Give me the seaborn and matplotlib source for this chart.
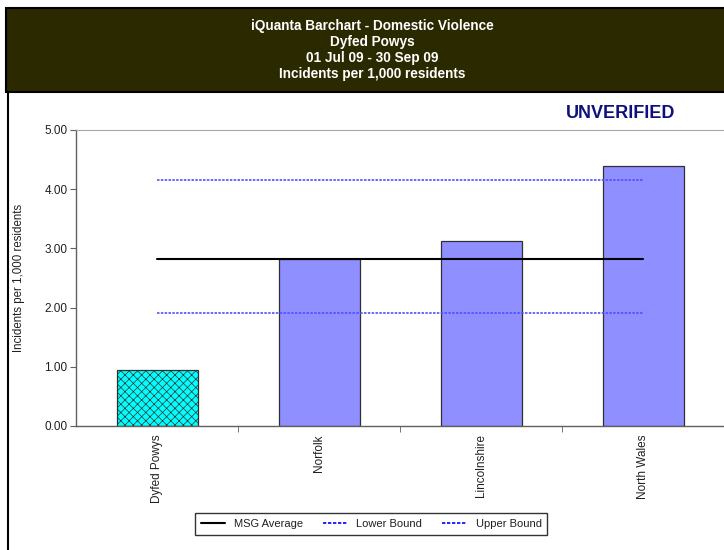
import matplotlib
matplotlib.use("Agg")
import matplotlib.pyplot as plt
import seaborn as sns
import pandas as pd
from matplotlib.lines import Line2D
from matplotlib.patches import Rectangle

# Chart data
areas = ["Dyfed Powys", "Norfolk", "Lincolnshire", "North Wales"]
rates = [0.94, 2.82, 3.13, 4.40]
msg_average = 2.82
lower_bound = 1.91
upper_bound = 4.16
title_lines = ["iQuanta Barchart - Domestic Violence", "Dyfed Powys",
               "01 Jul 09 - 30 Sep 09", "Incidents per 1,000 residents"]
y_label = "Incidents per 1,000 residents"

sns.set_style("white")
plt.rcParams["font.family"] = ["Liberation Sans", "DejaVu Sans"]
plt.rcParams["hatch.linewidth"] = 0.5

df = pd.DataFrame({"area": areas, "rate": rates})
colors = ["#00ffff"] + ["#8f8fff"] * (len(areas) - 1)

fig = plt.figure(figsize=(7.24, 5.5), dpi=100)
ax = fig.add_axes([76 / 724, 124 / 550, 1 - 76 / 724, 296 / 550])

sns.barplot(data=df, x="area", y="rate", hue="area", palette=colors, saturation=1,
            legend=False, width=0.5, edgecolor="#303030", linewidth=0.9, ax=ax)
ax.patches[0].set_hatch("xxxx")

x0, x1 = 0, len(areas) - 1
dash = (0, (1.5, 0.8))
ax.plot([x0, x1], [msg_average] * 2, color="black", lw=1.5)
ax.plot([x0, x1], [lower_bound] * 2, color="#5050ff", lw=1.2, ls=dash)
ax.plot([x0, x1], [upper_bound] * 2, color="#5050ff", lw=1.2, ls=dash)

ax.set_xlim(-0.5, len(areas) - 0.5)
ax.set_ylim(0, 5)
ax.set_yticks([0, 1, 2, 3, 4, 5])
ax.set_yticklabels(["{:.2f}".format(v) for v in range(6)], fontsize=8.5, color="#202020")
ax.set_xticks(range(len(areas)))
ax.set_xticklabels(areas, rotation=90, fontsize=8.5, va="top", color="#202020")
ax.tick_params(axis="x", length=0, pad=6)
ax.set_xticks([i + 0.5 for i in range(len(areas))], minor=True)
ax.tick_params(axis="x", which="minor", length=4, color="#606060", direction="out", bottom=True)
ax.tick_params(axis="y", length=4, color="#606060", direction="out", left=True, pad=2)
ax.set_xlabel("")
ax.set_ylabel(y_label, fontsize=8.3, color="#202020")
ax.yaxis.set_label_coords(-0.078, 0.5)

for s in ["left", "bottom"]:
    ax.spines[s].set_color("#606060")
    ax.spines[s].set_linewidth(1.0)
ax.spines["top"].set_color("#a8a8a8")
ax.spines["right"].set_visible(False)

# header band
fig.patches.append(Rectangle((6 / 724, 458 / 550), 1, 84 / 550, transform=fig.transFigure,
                             facecolor="#2b2900", edgecolor="black", lw=1.5))
fig.add_artist(Line2D([7.5 / 724, 7.5 / 724], [0, 458 / 550], color="black", lw=1.5,
                      transform=fig.transFigure))
for i, t in enumerate(title_lines):
    fig.text(372 / 724, 1 - (26 + i * 16) / 550, t, color="white", fontsize=9.8,
             fontweight="bold", ha="center", va="center")

fig.text(621 / 724, 1 - 113 / 550, "UNVERIFIED", color="#10107a", fontsize=13,
         fontweight="bold", ha="center", va="center")

handles = [Line2D([], [], color="black", lw=1.5),
           Line2D([], [], color="#0000ff", lw=1.2, ls=(0, (2, 1))),
           Line2D([], [], color="#0000ff", lw=1.2, ls=(0, (2, 1)))]
leg = fig.legend(handles, ["MSG Average", "Lower Bound", "Upper Bound"], ncol=3,
                 loc="center", bbox_to_anchor=(371 / 724, 1 - 524 / 550), fontsize=8,
                 frameon=True, fancybox=False, edgecolor="black", handlelength=2.2,
                 columnspacing=1.8, borderpad=0.5)
leg.get_frame().set_linewidth(1.0)
for t in leg.get_texts():
    t.set_color("#202020")

fig.savefig("out.png", dpi=100)
